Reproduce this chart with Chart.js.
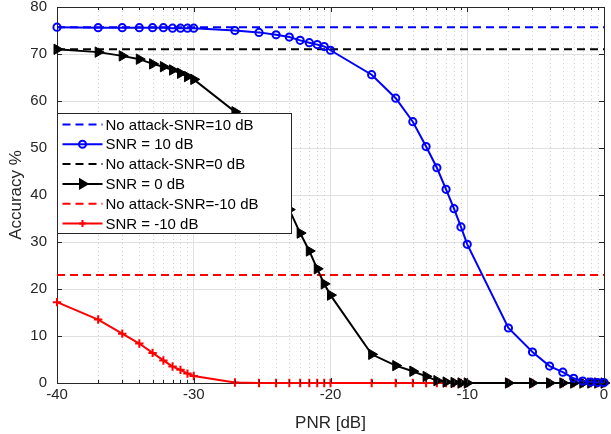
<!DOCTYPE html>
<html>
<head>
<meta charset="utf-8">
<script src="https://cdn.jsdelivr.net/npm/chart.js@4.4.0/dist/chart.umd.min.js"></script>
<style>
  html, body { margin: 0; padding: 0; background: #fff; }
  canvas { display: block; }
</style>
</head>
<body>
<canvas id="graph" width="611" height="434"></canvas>
<script>
// PNR points (dB), one per marker
const pnr = [-40, -36.99, -35.23, -33.98, -33.01, -32.22, -31.55, -30.97, -30.46, -30,
             -26.99, -25.23, -23.98, -23.01, -22.22, -21.55, -20.97, -20.46, -20,
             -16.99, -15.23, -13.98, -13.01, -12.22, -11.55, -10.97, -10.46, -10,
             -6.99, -5.23, -3.98, -3.01, -2.22, -1.55, -0.97, -0.46, 0]

const snr10      = [75.7, 75.6, 75.6, 75.6, 75.6, 75.6, 75.5, 75.5, 75.5, 75.5,
                    75.0, 74.6, 74.1, 73.6, 72.9, 72.4, 72.0, 71.6, 70.8,
                    65.6, 60.6, 55.6, 50.3, 45.8, 41.2, 37.1, 33.2, 29.5,
                    11.7, 6.6, 3.6, 2.3, 1.0, 0.4, 0.2, 0.1, 0.1]
const snr0       = [71.0, 70.4, 69.6, 68.9, 67.9, 67.3, 66.6, 65.9, 65.2, 64.6,
                    57.7, 50.0, 43.0, 36.9, 31.9, 28.1, 24.3, 21.1, 18.7,
                    6.1, 3.7, 2.5, 1.4, 0.5, 0.2, 0.1, 0, 0, 0,
                    0, 0, 0, 0, 0, 0, 0, 0]
const snrMinus10 = [17.2, 13.5, 10.5, 8.4, 6.4, 4.8, 3.5, 2.8, 2.0, 1.5,
                    0.1, 0, 0, 0, 0, 0, 0, 0, 0,
                    0, 0, 0, 0, 0, 0, 0, 0, 0,
                    0, 0, 0, 0, 0, 0, 0, 0, 0]

const noAttack10      = 75.7
const noAttack0       = 71.0
const noAttackMinus10 = 23.0

const xRange = [-40, 0]
const yRange = [0, 80]

const labels = ['No attack-SNR=10 dB', 'SNR = 10 dB', 'No attack-SNR=0 dB',
                'SNR = 0 dB', 'No attack-SNR=-10 dB', 'SNR = -10 dB']

const FONT = '"Liberation Sans", Arial, sans-serif'
const AXIS = '#262626'

// minor grid at 10*log10(k) inside each decade
const minorX = []
for (let d = -40; d < 0; d += 10)
    for (let k = 2; k <= 9; k++) minorX.push(d + 10 * Math.log10(k))

const pts = ys => pnr.map((x, i) => ({ x, y: ys[i] }))
const flat = y => [{ x: xRange[0], y }, { x: xRange[1], y }]

const dashed = (label, color, y) => ({
    label, data: flat(y), borderColor: color, borderWidth: 2, borderDash: [8, 5],
    pointRadius: 0, order: 1, clip: 8
})

const minorGrid = {
    id: 'minorGrid',
    beforeDatasetsDraw(chart) {
        const { ctx, chartArea: a, scales: { x } } = chart
        ctx.save()
        ctx.strokeStyle = '#cfcfcf'
        ctx.lineWidth = 1
        ctx.setLineDash([1, 3])
        minorX.forEach(v => {
            const px = Math.round(x.getPixelForValue(v)) + 0.5
            ctx.beginPath(); ctx.moveTo(px, a.top); ctx.lineTo(px, a.bottom); ctx.stroke()
        })
        ctx.restore()
    },
    afterDatasetsDraw(chart) {
        const { ctx, chartArea: a, scales: { x, y } } = chart
        ctx.save()
        ctx.strokeStyle = AXIS
        ctx.lineWidth = 1
        ctx.beginPath()
        ctx.moveTo(a.left, a.top + 0.5); ctx.lineTo(a.right + 0.5, a.top + 0.5)
        ctx.moveTo(a.right + 0.5, a.top); ctx.lineTo(a.right + 0.5, a.bottom)
        x.ticks.forEach(t => {
            const px = Math.round(x.getPixelForValue(t.value)) + 0.5
            ctx.moveTo(px, a.bottom); ctx.lineTo(px, a.bottom - 5)
            ctx.moveTo(px, a.top); ctx.lineTo(px, a.top + 5)
        })
        minorX.forEach(v => {
            const px = Math.round(x.getPixelForValue(v)) + 0.5
            ctx.moveTo(px, a.bottom); ctx.lineTo(px, a.bottom - 3)
            ctx.moveTo(px, a.top); ctx.lineTo(px, a.top + 3)
        })
        y.ticks.forEach(t => {
            const py = Math.round(y.getPixelForValue(t.value)) + 0.5
            ctx.moveTo(a.left, py); ctx.lineTo(a.left + 5, py)
            ctx.moveTo(a.right, py); ctx.lineTo(a.right - 5, py)
        })
        ctx.stroke()
        ctx.restore()
    }
}

const legendBox = {
    id: 'legendBox',
    afterDraw(chart) {
        const { ctx, chartArea: a } = chart
        const x0 = a.left + 0.5, y0 = a.top + 106.5, w = 234, h = 120
        ctx.save()
        ctx.fillStyle = '#fff'
        ctx.fillRect(x0, y0, w, h)
        ctx.strokeStyle = AXIS
        ctx.lineWidth = 1
        ctx.strokeRect(x0, y0, w, h)
        chart.data.datasets.forEach((ds, i) => {
            const cy = y0 + 11 + i * 19.8
            ctx.strokeStyle = ds.borderColor
            ctx.lineWidth = 2
            ctx.setLineDash(ds.borderDash || [])
            ctx.beginPath(); ctx.moveTo(x0 + 5, cy); ctx.lineTo(x0 + 45, cy); ctx.stroke()
            ctx.setLineDash([])
            if (ds.pointRadius > 0) {
                ctx.fillStyle = ds.pointBackgroundColor
                Chart.helpers.drawPoint(ctx, {
                    pointStyle: ds.pointStyle, rotation: ds.pointRotation || 0,
                    radius: ds.pointStyle === 'triangle' ? 5 : 3.5, borderWidth: 2
                }, x0 + 25, cy)
            }
            ctx.fillStyle = '#000'
            ctx.font = '15px ' + FONT
            ctx.textBaseline = 'middle'
            ctx.fillText(ds.label, x0 + 48, cy + 1)
        })
        ctx.restore()
    }
}

new Chart(document.getElementById('graph'), {
    type: 'line',
    data: {
        datasets: [
            dashed(labels[0], '#0000ff', noAttack10),
            {
                label: labels[1], data: pts(snr10), borderColor: '#0000ff', borderWidth: 2,
                pointStyle: 'circle', pointRadius: 3.6, pointBorderWidth: 2,
                pointBackgroundColor: 'rgba(0,0,0,0)', pointBorderColor: '#0000ff', order: 0, clip: 8
            },
            dashed(labels[2], '#000000', noAttack0),
            {
                label: labels[3], data: pts(snr0), borderColor: '#000000', borderWidth: 2,
                pointStyle: 'triangle', pointRotation: 90, pointRadius: 6, pointBorderWidth: 1,
                pointBackgroundColor: '#000000', pointBorderColor: '#000000', order: 0, clip: 8
            },
            dashed(labels[4], '#ff0000', noAttackMinus10),
            {
                label: labels[5], data: pts(snrMinus10), borderColor: '#ff0000', borderWidth: 2,
                pointStyle: 'cross', pointRadius: 4.2, pointBorderWidth: 2,
                pointBackgroundColor: '#ff0000', pointBorderColor: '#ff0000', order: 0, clip: 8
            }
        ]
    },
    options: {
        responsive: false,
        maintainAspectRatio: false,
        animation: false,
        devicePixelRatio: 1,
        layout: { padding: { top: 6.5, right: 7, left: 0, bottom: 0 } },
        plugins: { legend: { display: false }, tooltip: { enabled: false } },
        elements: { line: { tension: 0 } },
        scales: {
            x: {
                type: 'linear', min: xRange[0], max: xRange[1],
                afterFit: s => { s.height = 51; s.paddingLeft = 0; s.paddingRight = 0 },
                grid: { color: '#e0e0e0', drawTicks: false },
                border: { color: AXIS },
                ticks: { stepSize: 10, padding: 3, color: AXIS, font: { family: FONT, size: 15 } },
                title: { display: true, text: 'PNR [dB]', color: AXIS, padding: { top: 4, bottom: 0 },
                         font: { family: FONT, size: 17 } }
            },
            y: {
                min: yRange[0], max: yRange[1],
                afterFit: s => { s.width = 57; s.paddingTop = 0; s.paddingBottom = 0 },
                grid: { color: '#e0e0e0', drawTicks: false },
                border: { color: AXIS },
                ticks: { stepSize: 10, padding: 10, color: AXIS, font: { family: FONT, size: 15 } },
                title: { display: true, text: 'Accuracy %', color: AXIS, padding: { top: 6, bottom: 0 },
                         font: { family: FONT, size: 17 } }
            }
        }
    },
    plugins: [minorGrid, legendBox]
})
</script>
</body>
</html>
